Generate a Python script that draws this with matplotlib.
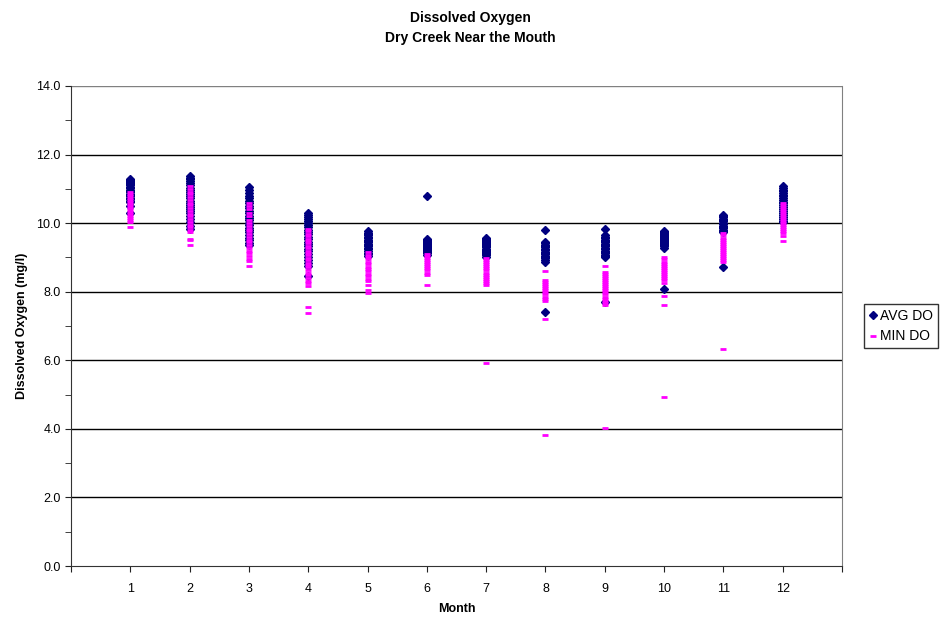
import matplotlib.pyplot as plt
from matplotlib.ticker import MultipleLocator

plt.rcParams['font.family'] = ['Liberation Sans', 'DejaVu Sans']

# AVG DO readings per month (mg/l)
avg_do = {
    1: [11.30, 11.27, 11.24, 11.20, 11.17, 11.14, 11.10, 11.06, 11.02, 10.98, 10.94,
        10.90, 10.86, 10.82, 10.78, 10.74, 10.70, 10.66, 10.62, 10.50, 10.30],
    2: [11.38, 11.33, 11.28, 11.22, 11.16, 11.10, 11.03, 10.96, 10.90, 10.84, 10.78,
        10.72, 10.66, 10.60, 10.54, 10.48, 10.42, 10.36, 10.30, 10.22, 10.12, 10.02,
        9.92, 9.82],
    3: [11.05, 10.96, 10.88, 10.80, 10.72, 10.65, 10.58, 10.50, 10.43, 10.36, 10.29,
        10.22, 10.15, 10.08, 10.01, 9.94, 9.87, 9.80, 9.73, 9.66, 9.58, 9.50, 9.42, 9.36],
    4: [10.30, 10.24, 10.18, 10.12, 10.06, 10.00, 9.94, 9.88, 9.81, 9.74, 9.67, 9.60,
        9.53, 9.46, 9.39, 9.32, 9.25, 9.18, 9.10, 9.02, 8.93, 8.83, 8.74, 8.46],
    5: [9.76, 9.72, 9.68, 9.64, 9.60, 9.56, 9.52, 9.48, 9.44, 9.40, 9.36, 9.32, 9.28,
        9.24, 9.19, 9.14, 9.09, 9.03],
    6: [10.80, 9.55, 9.52, 9.49, 9.46, 9.43, 9.40, 9.37, 9.34, 9.31, 9.28, 9.25, 9.22,
        9.19, 9.16, 9.12, 9.08],
    7: [9.56, 9.53, 9.50, 9.47, 9.44, 9.41, 9.38, 9.35, 9.32, 9.29, 9.26, 9.23, 9.20,
        9.17, 9.14, 9.10, 9.06, 9.00],
    8: [9.80, 9.45, 9.41, 9.37, 9.33, 9.29, 9.25, 9.21, 9.17, 9.13, 9.09, 9.05, 9.01,
        8.97, 8.93, 8.88, 7.40],
    9: [9.82, 9.64, 9.60, 9.56, 9.52, 9.48, 9.44, 9.40, 9.36, 9.32, 9.28, 9.24, 9.20,
        9.16, 9.12, 9.08, 9.04, 9.00, 7.70],
    10: [9.78, 9.75, 9.72, 9.69, 9.66, 9.63, 9.60, 9.57, 9.54, 9.51, 9.48, 9.45, 9.42,
         9.39, 9.36, 9.32, 9.28, 8.07],
    11: [10.25, 10.21, 10.17, 10.13, 10.09, 10.05, 10.01, 9.97, 9.93, 9.89, 9.85, 9.81,
         9.77, 9.73, 8.73],
    12: [11.08, 11.03, 10.98, 10.93, 10.88, 10.83, 10.78, 10.73, 10.68, 10.63, 10.58,
         10.53, 10.48, 10.42, 10.36, 10.30, 10.24, 10.18, 10.12, 10.06, 10.02],
}

# MIN DO readings per month (mg/l)
min_do = {
    1: [10.92, 10.86, 10.80, 10.74, 10.68, 10.62, 10.56, 10.50, 10.44, 10.38, 10.32,
        10.26, 10.20, 10.14, 10.08, 10.02, 9.88],
    2: [11.08, 11.00, 10.92, 10.84, 10.76, 10.68, 10.60, 10.52, 10.44, 10.36, 10.28,
        10.20, 10.12, 10.04, 9.96, 9.88, 9.80, 9.74, 9.55, 9.50, 9.35],
    3: [10.60, 10.50, 10.40, 10.30, 10.20, 10.10, 10.00, 9.92, 9.84, 9.76, 9.68, 9.60,
        9.52, 9.44, 9.36, 9.28, 9.20, 9.12, 9.04, 8.96, 8.90, 8.75],
    4: [9.83, 9.76, 9.69, 9.62, 9.55, 9.48, 9.41, 9.34, 9.27, 9.20, 9.13, 9.06, 8.99,
        8.92, 8.85, 8.78, 8.71, 8.64, 8.56, 8.48, 8.40, 8.32, 8.24, 8.16, 7.55, 7.38],
    5: [9.15, 9.08, 9.01, 8.94, 8.87, 8.80, 8.73, 8.66, 8.59, 8.52, 8.45, 8.38, 8.30,
        8.20, 8.05, 7.96],
    6: [9.10, 9.04, 8.98, 8.92, 8.86, 8.80, 8.74, 8.68, 8.62, 8.56, 8.50, 8.20],
    7: [8.98, 8.92, 8.86, 8.80, 8.74, 8.68, 8.62, 8.56, 8.50, 8.44, 8.38, 8.32, 8.26,
        8.20, 5.92],
    8: [8.60, 8.34, 8.28, 8.22, 8.16, 8.10, 8.04, 7.98, 7.92, 7.86, 7.80, 7.72, 7.20,
        3.82],
    9: [8.76, 8.58, 8.52, 8.46, 8.40, 8.34, 8.28, 8.22, 8.16, 8.10, 8.04, 7.98, 7.92,
        7.86, 7.80, 7.74, 7.68, 7.60, 4.03],
    10: [9.00, 8.94, 8.88, 8.82, 8.76, 8.70, 8.64, 8.58, 8.52, 8.46, 8.40, 8.34, 8.25,
         7.87, 7.60, 4.93],
    11: [9.70, 9.64, 9.58, 9.52, 9.46, 9.40, 9.34, 9.28, 9.22, 9.16, 9.10, 9.04, 8.98,
         8.92, 8.87, 6.33],
    12: [10.60, 10.54, 10.48, 10.42, 10.36, 10.30, 10.24, 10.18, 10.12, 10.06, 10.00,
         9.94, 9.88, 9.82, 9.76, 9.70, 9.62, 9.48],
}

avg_x = [m for m, vals in avg_do.items() for _ in vals]
avg_y = [v for vals in avg_do.values() for v in vals]
min_x = [m for m, vals in min_do.items() for _ in vals]
min_y = [v for vals in min_do.values() for v in vals]

fig = plt.figure(figsize=(9.41, 6.19), dpi=100)
ax = fig.add_axes([0.0755, 0.0856, 0.8193, 0.7755])

ax.plot(avg_x, avg_y, linestyle='none', marker='D', markersize=3.9,
        color='#000080', label='AVG DO')
ax.plot(min_x, min_y, linestyle='none', marker='_', markersize=3.8,
        markeredgewidth=2.0, color='#FF00FF', label='MIN DO')

ax.set_xlim(0, 13)
ax.set_ylim(0, 14)
ax.set_xticks(range(0, 14))
ax.set_xticklabels([''] + [str(m) for m in range(1, 13)] + [''])
ax.yaxis.set_major_locator(MultipleLocator(2))
ax.yaxis.set_minor_locator(MultipleLocator(1))
ax.set_yticklabels([f'{v:.1f}' for v in ax.get_yticks()])
ax.tick_params(axis='both', which='major', direction='out', length=4,
               labelsize=9, color='#222222')
ax.tick_params(axis='x', which='major', pad=8)
ax.tick_params(axis='y', which='minor', direction='out', length=4, color='#222222')

for y in range(2, 14, 2):
    ax.axhline(y, color='black', linewidth=1, zorder=0)
ax.axhline(14, color='#808080', linewidth=1, zorder=0)

ax.spines['left'].set_color('#333333')
ax.spines['bottom'].set_color('#333333')
ax.spines['right'].set_color('#808080')
ax.spines['top'].set_visible(False)

ax.set_xlabel('Month', fontsize=9, fontweight='bold', labelpad=6)
ax.set_ylabel('Dissolved Oxygen (mg/l)', fontsize=9, fontweight='bold', labelpad=6)
fig.suptitle('Dissolved Oxygen\nDry Creek Near the Mouth', fontsize=10,
             fontweight='bold', x=0.5, y=0.982, linespacing=1.5)

leg = ax.legend(loc='center left', bbox_to_anchor=(1.029, 0.5), fontsize=10,
                frameon=True, fancybox=False, edgecolor='black',
                handlelength=0.5, handletextpad=0.25, borderpad=0.35,
                borderaxespad=0, labelspacing=0.5)
leg.get_frame().set_linewidth(1)

fig.savefig('out.png', dpi=100)
